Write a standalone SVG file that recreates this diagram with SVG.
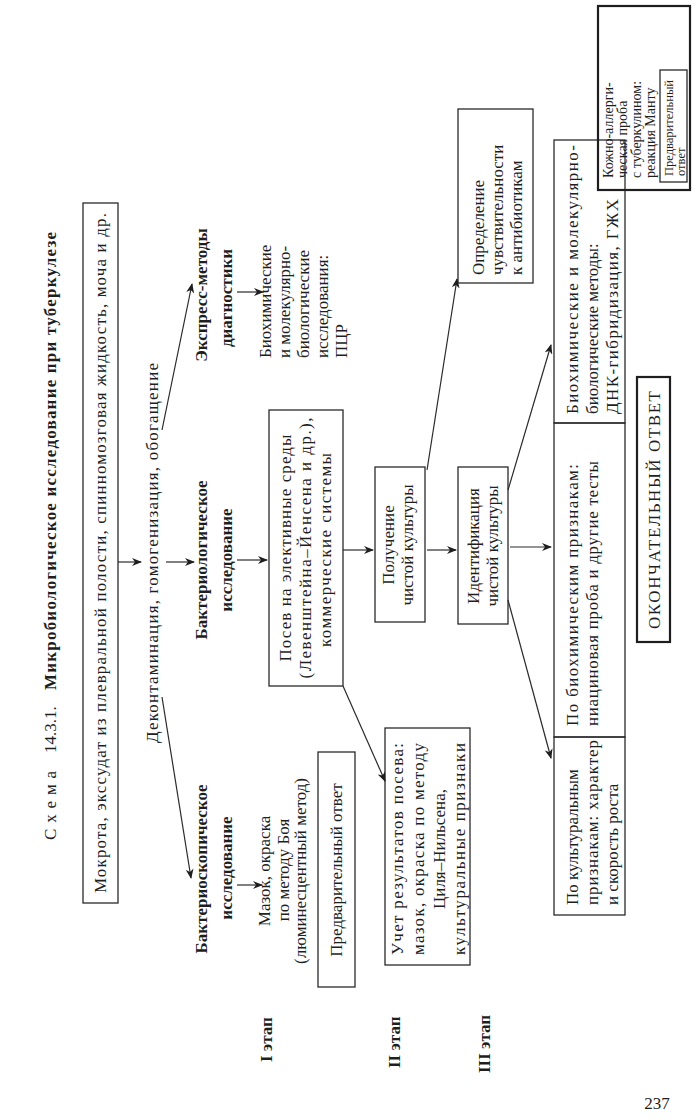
<svg xmlns="http://www.w3.org/2000/svg" width="699" height="1120" viewBox="0 0 699 1120">
<style>
text{font-family:"Liberation Serif","Times New Roman",serif;font-size:17px;fill:#1e1e1e}
.b{font-weight:bold}
.s{font-size:14px}
.box{fill:none;stroke:#2a2a2a;stroke-width:1.3}
.thick{fill:none;stroke:#1e1e1e;stroke-width:2.2}
#connectors line{stroke:#2a2a2a;stroke-width:1.2;marker-end:url(#ah)}
</style>
<defs>
<marker id="ah" viewBox="0 0 10 8" refX="9" refY="4" markerWidth="10" markerHeight="8" orient="auto" markerUnits="userSpaceOnUse"><path d="M0,0 L10,4 L0,8 L3,4 z" fill="#1e1e1e"/></marker>
</defs>
<rect width="699" height="1120" fill="#fff"/>

<g id="title">
<text transform="translate(56,840) rotate(-90)" letter-spacing="6">Схема</text>
<text transform="translate(56,753) rotate(-90)">14.3.1.</text>
<text class="b" transform="translate(56,690) rotate(-90)" textLength="458" lengthAdjust="spacing">Микробиологическое исследование при туберкулезе</text>
</g>

<g id="sample">
<rect class="box" x="83" y="203" width="35" height="700"/>
<text transform="translate(106,893) rotate(-90)" textLength="680" lengthAdjust="spacing">Мокрота, экссудат из плевральной полости, спинномозговая жидкость, моча и др.</text>
</g>

<g id="prep">
<text transform="translate(158,743) rotate(-90)" textLength="380" lengthAdjust="spacing">Деконтаминация, гомогенизация, обогащение</text>
</g>

<g id="bacterioscopy">
<text class="b" text-anchor="middle" transform="translate(207,869) rotate(-90)">Бактериоскопическое</text>
<text class="b" text-anchor="middle" transform="translate(232,868) rotate(-90)">исследование</text>
</g>

<g id="bacteriology">
<text class="b" text-anchor="middle" transform="translate(207,560) rotate(-90)">Бактериологическое</text>
<text class="b" text-anchor="middle" transform="translate(232,560) rotate(-90)">исследование</text>
</g>

<g id="express">
<text class="b" text-anchor="middle" transform="translate(207,295) rotate(-90)">Экспресс-методы</text>
<text class="b" text-anchor="middle" transform="translate(232,298) rotate(-90)">диагностики</text>
</g>

<g id="smear">
<text text-anchor="middle" transform="translate(270,871) rotate(-90)">Мазок, окраска</text>
<text text-anchor="middle" transform="translate(289,870) rotate(-90)">по методу Боя</text>
<text text-anchor="middle" transform="translate(306,871) rotate(-90)">(люминесцентный метод)</text>
</g>

<g id="prelim1">
<rect class="box" x="318" y="752" width="37" height="235"/>
<text text-anchor="middle" transform="translate(342,870) rotate(-90)">Предварительный ответ</text>
</g>

<g id="pcr">
<text transform="translate(271,358) rotate(-90)">Биохимические</text>
<text transform="translate(290,358) rotate(-90)">и молекулярно-</text>
<text transform="translate(309,358) rotate(-90)">биологические</text>
<text transform="translate(328,358) rotate(-90)">исследования:</text>
<text transform="translate(347,358) rotate(-90)">ПЦР</text>
</g>

<g id="inoculation">
<rect class="box" x="269" y="410" width="74" height="276"/>
<text text-anchor="middle" transform="translate(291,548) rotate(-90)" textLength="227" lengthAdjust="spacing">Посев на элективные среды</text>
<text text-anchor="middle" transform="translate(311,548) rotate(-90)" textLength="261" lengthAdjust="spacing">(Левенштейна–Йенсена и др.),</text>
<text text-anchor="middle" transform="translate(331,550) rotate(-90)" textLength="194" lengthAdjust="spacing">коммерческие системы</text>
</g>

<g id="results">
<rect class="box" x="385" y="728" width="85" height="237"/>
<text transform="translate(403,955) rotate(-90)" textLength="212" lengthAdjust="spacing">Учет результатов посева:</text>
<text transform="translate(424,955) rotate(-90)" textLength="212" lengthAdjust="spacing">мазок, окраска по методу</text>
<text text-anchor="middle" transform="translate(445,849) rotate(-90)">Циля–Нильсена,</text>
<text transform="translate(465,955) rotate(-90)" textLength="212" lengthAdjust="spacing">культуральные признаки</text>
</g>

<g id="pure">
<rect class="box" x="375" y="467" width="50" height="155"/>
<text text-anchor="middle" transform="translate(394,545) rotate(-90)">Получение</text>
<text text-anchor="middle" transform="translate(413,545) rotate(-90)">чистой культуры</text>
</g>

<g id="ident">
<rect class="box" x="458" y="467" width="50" height="157"/>
<text text-anchor="middle" transform="translate(479,546) rotate(-90)">Идентификация</text>
<text text-anchor="middle" transform="translate(498,546) rotate(-90)">чистой культуры</text>
</g>

<g id="sensitivity">
<rect class="box" x="458" y="109" width="75" height="174"/>
<text transform="translate(484,275) rotate(-90)">Определение</text>
<text transform="translate(503,275) rotate(-90)">чувствительности</text>
<text transform="translate(522,275) rotate(-90)">к антибиотикам</text>
</g>

<g id="cell-molecular">
<rect class="box" x="554" y="140" width="71" height="283"/>
<text transform="translate(578,414) rotate(-90)" textLength="269" lengthAdjust="spacing">Биохимические и молекулярно-</text>
<text transform="translate(598,414) rotate(-90)">биологические методы:</text>
<text transform="translate(618,414) rotate(-90)" textLength="215" lengthAdjust="spacing">ДНК-гибридизация, ГЖХ</text>
</g>

<g id="cell-biochem">
<rect class="box" x="554" y="423" width="71" height="314"/>
<text transform="translate(578,726) rotate(-90)" textLength="262" lengthAdjust="spacing">По биохимическим признакам:</text>
<text transform="translate(598,726) rotate(-90)" textLength="265" lengthAdjust="spacing">ниациновая проба и другие тесты</text>
</g>

<g id="cell-cultural">
<rect class="box" x="554" y="737" width="71" height="178"/>
<text transform="translate(578,905) rotate(-90)">По культуральным</text>
<text transform="translate(598,905) rotate(-90)" textLength="165" lengthAdjust="spacing">признакам: характер</text>
<text transform="translate(618,905) rotate(-90)">и скорость роста</text>
</g>

<g id="final">
<rect class="thick" x="637" y="377" width="33" height="265"/>
<text text-anchor="middle" transform="translate(660,510) rotate(-90)" textLength="238" lengthAdjust="spacing">ОКОНЧАТЕЛЬНЫЙ ОТВЕТ</text>
</g>

<g id="mantoux">
<rect class="thick" x="598" y="6" width="92" height="184"/>
<text class="s" transform="translate(613,178) rotate(-90)">Кожно-аллерги-</text>
<text class="s" transform="translate(627,178) rotate(-90)">ческая проба</text>
<text class="s" transform="translate(641,178) rotate(-90)">с туберкулином:</text>
<text class="s" transform="translate(655,178) rotate(-90)">реакция Манту</text>
<rect class="box" x="660" y="70" width="27" height="112"/>
<text class="s" transform="translate(673,176) rotate(-90)" style="font-size:12.5px">Предварительный</text>
<text class="s" transform="translate(685,176) rotate(-90)" style="font-size:12.5px">ответ</text>
</g>

<g id="stages">
<text class="b" transform="translate(272,1062) rotate(-90)">I этап</text>
<text class="b" transform="translate(400,1068) rotate(-90)">II этап</text>
<text class="b" transform="translate(490,1073) rotate(-90)">III этап</text>
</g>

<g id="connectors">
<line x1="118" y1="562" x2="141" y2="562"/>
<line x1="166" y1="562" x2="194" y2="562"/>
<line x1="162" y1="697" x2="191" y2="878"/>
<line x1="162" y1="430" x2="192" y2="284"/>
<line x1="237" y1="560" x2="267" y2="560"/>
<line x1="237" y1="885" x2="262" y2="885"/>
<line x1="237" y1="292" x2="263" y2="292"/>
<line x1="343" y1="550" x2="373" y2="550"/>
<line x1="343" y1="686" x2="385" y2="781"/>
<line x1="427" y1="550" x2="456" y2="550"/>
<line x1="427" y1="470" x2="457" y2="279"/>
<line x1="510" y1="547" x2="551" y2="547"/>
<line x1="508" y1="490" x2="551" y2="345"/>
<line x1="508" y1="600" x2="551" y2="758"/>
</g>

<text x="657" y="1109" text-anchor="middle">237</text>
</svg>
